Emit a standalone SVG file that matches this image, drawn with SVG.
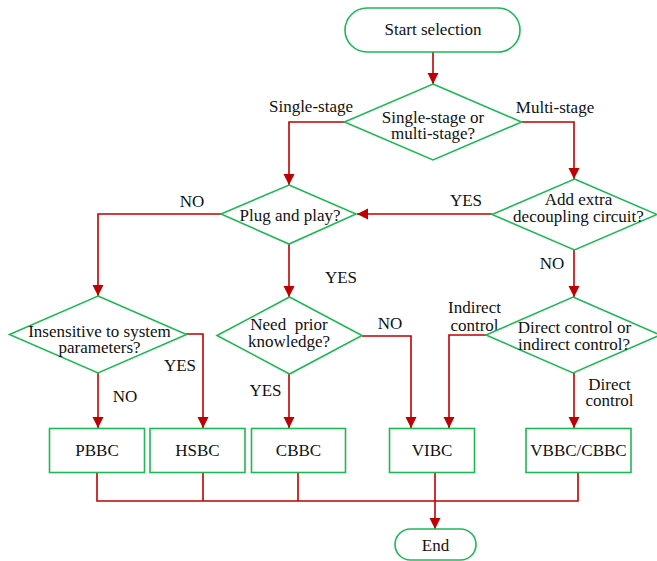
<svg xmlns="http://www.w3.org/2000/svg" width="657" height="561" viewBox="0 0 657 561" font-family="'Liberation Serif', Tinos, 'Times New Roman', 'DejaVu Serif', serif">
<style>
.n{fill:#fff;stroke:#1db954;stroke-width:1.6}
.c{fill:none;stroke:#c00000;stroke-width:1.6}
text{font-family:'Liberation Serif', Tinos, 'Times New Roman', 'DejaVu Serif', serif;font-size:17px;fill:#111;text-anchor:middle}
</style>
<defs>
<marker id="a" markerUnits="userSpaceOnUse" markerWidth="12" markerHeight="12" refX="11" refY="5.5" orient="auto">
<path d="M0,0 L11,5.5 L0,11 z" fill="#c00000"/>
</marker>
</defs>
<rect width="657" height="561" fill="#fff"/>
<g id="connectors">
<path class="c" d="M433,52 V84" marker-end="url(#a)"/>
<path class="c" d="M345,122 H289 V185" marker-end="url(#a)"/>
<path class="c" d="M522,122 H574 V179" marker-end="url(#a)"/>
<path class="c" d="M492,214 H357" marker-end="url(#a)"/>
<path class="c" d="M221,214 H98 V296" marker-end="url(#a)"/>
<path class="c" d="M289,244 V297" marker-end="url(#a)"/>
<path class="c" d="M574,250 V297" marker-end="url(#a)"/>
<path class="c" d="M98,373 V428" marker-end="url(#a)"/>
<path class="c" d="M186,334 H203 V428" marker-end="url(#a)"/>
<path class="c" d="M289,374 V428" marker-end="url(#a)"/>
<path class="c" d="M362,336 H411 V428" marker-end="url(#a)"/>
<path class="c" d="M486,335 H449 V428" marker-end="url(#a)"/>
<path class="c" d="M574,373 V428" marker-end="url(#a)"/>
<path class="c" d="M97,472 V501 H578 V472 M203,472 V501 M298,472 V501"/>
<path class="c" d="M435,472 V529" marker-end="url(#a)"/>
<text x="311" y="112">Single-stage</text>
<text x="555" y="113">Multi-stage</text>
<text x="192" y="207">NO</text>
<text x="466" y="206">YES</text>
<text x="341" y="283">YES</text>
<text x="552" y="269">NO</text>
<text x="474.5" y="313">Indirect</text>
<text x="474.5" y="331">control</text>
<text x="390" y="329">NO</text>
<text x="180" y="371">YES</text>
<text x="125" y="402">NO</text>
<text x="265.5" y="396">YES</text>
<text x="609.5" y="390">Direct</text>
<text x="609.5" y="406">control</text>
</g>
<g id="start">
<rect class="n" x="345" y="8" width="175" height="44" rx="22"/>
<text x="433" y="35">Start selection</text>
</g>
<g id="d-stage">
<polygon class="n" points="433,84 521.5,122 433,160 344.5,122"/>
<text x="433" y="122.5">Single-stage or</text>
<text x="433" y="139">multi-stage?</text>
</g>
<g id="d-plug">
<polygon class="n" points="289,185 356,214 289,244 221,214"/>
<text x="290" y="221">Plug and play?</text>
</g>
<g id="d-decouple">
<polygon class="n" points="574.5,179 657,214.5 574.5,250 492,214.5"/>
<text x="578.5" y="205">Add extra</text>
<text x="578.5" y="222">decoupling circuit?</text>
</g>
<g id="d-insensitive">
<polygon class="n" points="98,296 186.5,334.5 98,373 9.5,334.5"/>
<text x="99.5" y="337">Insensitive to system</text>
<text x="99.5" y="353">parameters?</text>
</g>
<g id="d-prior">
<polygon class="n" points="289.5,297 362,335.5 289.5,374 217,335.5"/>
<text x="289" y="330" xml:space="preserve">Need  prior</text>
<text x="289" y="347">knowledge?</text>
</g>
<g id="d-direct">
<polygon class="n" points="573,297 660,335 573,373 486,335"/>
<text x="574.5" y="333">Direct control or</text>
<text x="574" y="350">indirect control?</text>
</g>
<g id="pbbc">
<rect class="n" x="49.5" y="428.5" width="95" height="44"/>
<text x="97" y="456">PBBC</text>
</g>
<g id="hsbc">
<rect class="n" x="150" y="428.5" width="95" height="44"/>
<text x="197.5" y="456">HSBC</text>
</g>
<g id="cbbc">
<rect class="n" x="251.5" y="428.5" width="94" height="44"/>
<text x="298.5" y="456">CBBC</text>
</g>
<g id="vibc">
<rect class="n" x="389.5" y="428.5" width="85" height="44"/>
<text x="432" y="456">VIBC</text>
</g>
<g id="vbbc">
<rect class="n" x="526" y="428.5" width="105" height="44"/>
<text x="578.5" y="456">VBBC/CBBC</text>
</g>
<g id="end">
<rect class="n" x="395" y="529" width="81" height="31" rx="15.5"/>
<text x="435.5" y="551">End</text>
</g>
</svg>
